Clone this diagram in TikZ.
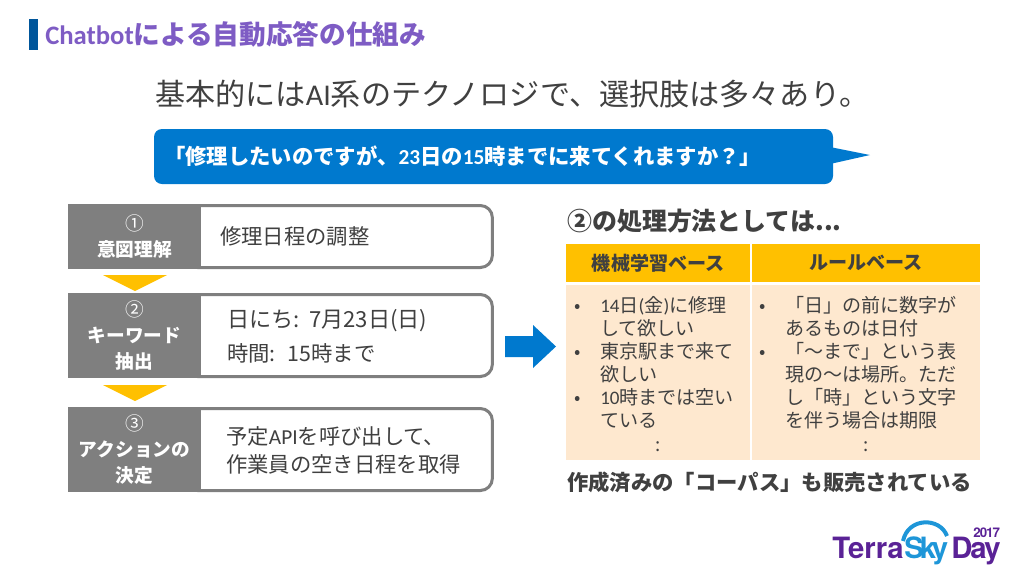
\documentclass[tikz,border=0pt]{standalone}
\usepackage{fontspec}
\usepackage{xcolor}
\setmainfont{Noto Sans CJK JP}
\newfontfamily\cb{Carlito}
\newfontfamily\logofont[LetterSpace=-7]{TeX Gyre Heros}
\newfontfamily\logofontA[LetterSpace=0]{TeX Gyre Heros}
\newfontfamily\logofontB[LetterSpace=-14]{TeX Gyre Heros}
\usetikzlibrary{positioning}

\definecolor{darktext}{HTML}{404040}
\definecolor{titlepurple}{HTML}{7E5CC4}
\definecolor{barblue}{HTML}{00569B}
\definecolor{callblue}{HTML}{0079CE}
\definecolor{stepgrey}{HTML}{7F7F7F}
\definecolor{gold}{HTML}{FFC000}
\definecolor{cellpeach}{HTML}{FEE8CF}
\definecolor{logopurple}{HTML}{5A2296}
\definecolor{logoblue}{HTML}{1E96D8}

\tikzset{
    plaintext/.style={inner sep=0pt, anchor=west, text=darktext},
    stepwhite/.style={draw=stepgrey, line width=2.25pt, fill=white, rounded corners=9pt, inner sep=0pt, minimum width=230pt},
    stepgreybox/.style={fill=stepgrey, text=white, align=center, inner sep=0pt, minimum width=99.75pt,
        font=\fontsize{14}{19.5}\selectfont\bfseries},
    steptext/.style={plaintext, align=left, font=\fontsize{16}{21}\selectfont},
    chevron/.style={fill=gold},
    headcell/.style={fill=gold, text=darktext, inner sep=0pt, minimum height=28.5pt,
        font=\fontsize{14.3}{17}\selectfont\bfseries},
    bodycell/.style={fill=cellpeach, inner sep=0pt, minimum height=131.25pt},
    bodytext/.style={inner sep=0pt, anchor=north west, align=left, text=darktext,
        font=\fontsize{14.3}{17.25}\selectfont},
    bulletmark/.style={inner sep=0pt, text=darktext, font=\fontsize{14}{17}\selectfont},
}

\begin{document}
\begin{tikzpicture}[x=0.75pt,y=-0.75pt]
    \useasboundingbox (0,0) rectangle (1024,576);

    % title
    \fill[barblue] (29,19) rectangle (38,50);
    \node[plaintext, text=titlepurple, font=\fontsize{20}{24}\selectfont\bfseries] (T1) at (45,34) {{\cb Chatbot}による自動応答の仕組み};
    \node[plaintext, font=\fontsize{22.6}{26}\selectfont] (T2) at (155,94) {基本的には{\cb AI}系のテクノロジで、選択肢は多々あり。};

    % speech balloon
    \fill[callblue] (830,147) -- (870,155) -- (830,164) -- cycle;
    \node[fill=callblue, rounded corners=6pt, inner sep=0pt, minimum width=509.25pt, minimum height=41.25pt] (S1) at (493.5,156.5) {};
    \node[plaintext, text=white, font=\fontsize{16}{20}\selectfont\bfseries] (S2) at (164,156) {「修理したいのですが、{\cb 23}日の{\cb 15}時までに来てくれますか？」};

    % steps
    \node[stepwhite, minimum height=46.5pt] (A1) at (339,236.5) {};
    \node[stepwhite, minimum height=61.5pt] (B1) at (339,335.5) {};
    \node[stepwhite, minimum height=61.5pt] (C1) at (339,449.5) {};

    \node[stepgreybox, minimum height=48.75pt] (A2) at (134.5,236.5) {{\mdseries ①}\\意図理解};
    \node[stepgreybox, minimum height=63.75pt] (B2) at (134.5,335.5) {{\mdseries ②}\\キーワード\\抽出};
    \node[stepgreybox, minimum height=63.75pt] (C2) at (134.5,449.5) {{\mdseries ③}\\アクションの\\決定};

    \node[steptext] (A3) at (220,236) {修理日程の調整};
    \node[steptext, font=\fontsize{16.6}{21}\selectfont] (B3) at (227,321) {日にち:\hspace{7pt}7月23日(日)};
    \node[steptext] (B4) at (227,353) {時間:\hspace{9pt}15時まで};
    \node[steptext] (C3) at (226,450) {予定{\cb API}を呼び出して、\\作業員の空き日程を取得};

    \fill[chevron] (103,275) -- (167,275) -- (135,291) -- cycle;
    \fill[chevron] (103,385) -- (167,385) -- (135,401) -- cycle;

    % block arrow
    \fill[callblue] (505,336) -- (533,336) -- (533,325) -- (556,346.5) -- (533,368) -- (533,357) -- (505,357) -- cycle;

    % right table
    \node[plaintext, font=\fontsize{18.7}{22}\selectfont\bfseries] (R1) at (567,221) {②の処理方法としては...};

    \node[headcell, minimum width=137.6pt] (H1) at (658.2,263) {機械学習ベース};
    \node[headcell, minimum width=171pt] (H2) at (866,263) {ルールベース};
    \node[bodycell, minimum width=137.6pt] (D1) at (658.2,372.5) {};
    \node[bodycell, minimum width=171pt] (D2) at (866,372.5) {};

    \node[bulletmark] (E1) at (578,308) {•};
    \node[bulletmark] (E2) at (578,354) {•};
    \node[bulletmark] (E3) at (578,400) {•};
    \node[bodytext] (E4) at (600,296) {{\cb 14}日{\cb (}金{\cb )}に修理\\して欲しい\\東京駅まで来て\\欲しい\\{\cb 10}時までは空い\\ている};
    \node[bulletmark] (E5) at (658,447) {:};

    \node[bulletmark] (F1) at (763,308) {•};
    \node[bulletmark] (F2) at (763,354) {•};
    \node[bodytext] (F3) at (785,296) {「日」の前に数字が\\あるものは日付\\「～まで」という表\\現の～は場所。ただ\\し「時」という文字\\を伴う場合は期限};
    \node[bulletmark] (F4) at (866,447) {:};

    \node[plaintext, font=\fontsize{16}{20}\selectfont\bfseries] (R2) at (567,482) {作成済みの「コーパス」も販売されている};

    % logo
    \draw[logoblue, line width=3pt] (903,541) .. controls (908,517) and (940,517) .. (947,536);
    \node[inner sep=0pt, anchor=base west, text=logopurple, font=\fontsize{22}{24}\logofontA\bfseries] (L1) at (832,558) {Terra};
    \node[inner sep=0pt, anchor=base west, text=logoblue, font=\fontsize{22}{24}\logofontB\bfseries] (L2) at (904,558) {Sky};
    \node[inner sep=0pt, anchor=base west, text=logopurple, font=\fontsize{22}{24}\logofont\bfseries] (L3) at (951,558) {Day};
    \node[inner sep=0pt, anchor=base west, text=logopurple, font=\fontsize{10}{11}\logofont\bfseries] (L4) at (973,537) {2017};
\end{tikzpicture}
\end{document}
